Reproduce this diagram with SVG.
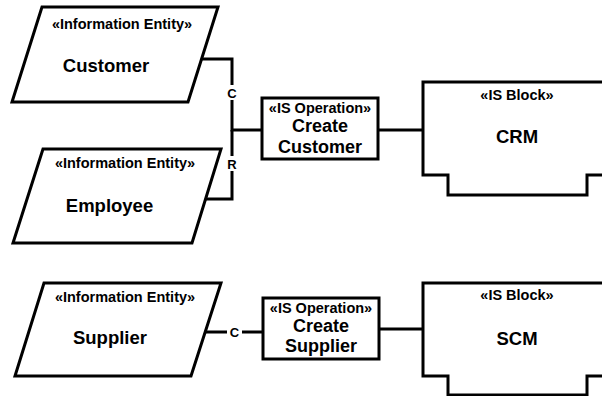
<svg xmlns="http://www.w3.org/2000/svg" width="602" height="396" viewBox="0 0 602 396">
<style>
.shape{fill:#fff;stroke:#000;stroke-width:3;stroke-linejoin:miter}
.line{fill:none;stroke:#000;stroke-width:3}
text{font-family:"Liberation Sans",Arial,sans-serif;font-weight:bold;fill:#000;text-anchor:middle}
.st{font-size:14.5px}
.nm{font-size:18.5px}
.op{font-size:18px}
.lb{font-size:13px}
</style>
<rect width="602" height="396" fill="#fff"/>
<g id="connectors">
<path class="line" d="M201,59 H232 V130 H262"/>
<path class="line" d="M205,199 H232 V130"/>
<path class="line" d="M205,332 H263"/>
<path class="line" d="M378,130 H423"/>
<path class="line" d="M379,329 H423"/>
<rect x="225" y="85" width="14" height="15" fill="#fff"/>
<text class="lb" x="232" y="98">C</text>
<rect x="225" y="156" width="14" height="15" fill="#fff"/>
<text class="lb" x="232" y="169">R</text>
<rect x="227" y="325" width="15" height="14" fill="#fff"/>
<text class="lb" x="234.5" y="337">C</text>
</g>
<g id="customer">
<polygon class="shape" points="42,7 218,7 188,102 12,102"/>
<text class="st" x="122" y="29">«Information Entity»</text>
<text class="nm" x="106" y="72">Customer</text>
</g>
<g id="employee">
<polygon class="shape" points="43,149 221,149 192,243 13,243"/>
<text class="st" x="125" y="168">«Information Entity»</text>
<text class="nm" x="109.5" y="212">Employee</text>
</g>
<g id="supplier">
<polygon class="shape" points="44,283 221,283 191,376 15,376"/>
<text class="st" x="125" y="302">«Information Entity»</text>
<text class="nm" x="110" y="344">Supplier</text>
</g>
<g id="op-create-customer">
<rect class="shape" x="262" y="98" width="116" height="61"/>
<text class="st" x="320" y="113">«IS Operation»</text>
<text class="op" x="320" y="132">Create</text>
<text class="op" x="320" y="153">Customer</text>
</g>
<g id="op-create-supplier">
<rect class="shape" x="263" y="298" width="116" height="61"/>
<text class="st" x="321" y="313">«IS Operation»</text>
<text class="op" x="321" y="332">Create</text>
<text class="op" x="321" y="352">Supplier</text>
</g>
<g id="crm">
<path class="shape" d="M423,82 H614 V175 H587 V195 H448 V175 H423 Z"/>
<text class="st" x="517" y="100">«IS Block»</text>
<text class="nm" x="517" y="143">CRM</text>
</g>
<g id="scm">
<path class="shape" d="M423,283 H614 V376 H587 V395 H448 V376 H423 Z"/>
<text class="st" x="517" y="300">«IS Block»</text>
<text class="nm" x="517" y="345">SCM</text>
</g>
</svg>
